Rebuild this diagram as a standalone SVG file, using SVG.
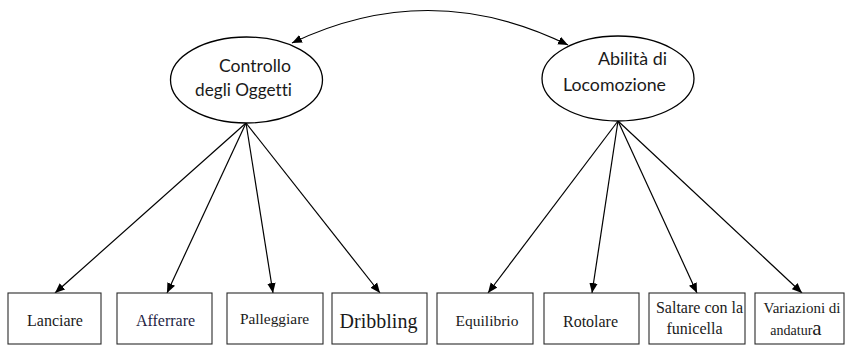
<svg xmlns="http://www.w3.org/2000/svg" width="845" height="345" viewBox="0 0 845 345">
  <style>
    .latent { fill: #ffffff; stroke: #000000; stroke-width: 1.3; }
    .obs { fill: #ffffff; stroke: #2a2a2a; stroke-width: 1.1; }
    .lt { font-family: "Lato", "Noto Sans", sans-serif; font-size: 17.5px; fill: #1a1a1a; text-anchor: end; font-variant-ligatures: none; }
    .ot { font-family: "Liberation Serif", "Times New Roman", serif; font-size: 16px; fill: #1a1a1a; text-anchor: middle; }
    .edge { fill: none; stroke: #000000; stroke-width: 1.2; }
  </style>
  <defs>
    <marker id="arrow" viewBox="0 0 10 10" refX="10" refY="5" markerWidth="10" markerHeight="10" markerUnits="userSpaceOnUse" orient="auto-start-reverse">
      <path d="M0,0.8 L10,5 L0,9.2 Z" fill="#000000"/>
    </marker>
  </defs>

  <rect width="845" height="345" fill="#ffffff"/>

  <!-- connectors -->
  <g id="connectors">
    <path class="edge" d="M292,43 Q430,-23 568,45" marker-start="url(#arrow)" marker-end="url(#arrow)"/>
    <line class="edge" x1="246" y1="123" x2="55" y2="293" marker-end="url(#arrow)"/>
    <line class="edge" x1="246" y1="123" x2="167" y2="293" marker-end="url(#arrow)"/>
    <line class="edge" x1="246" y1="123" x2="273" y2="293" marker-end="url(#arrow)"/>
    <line class="edge" x1="246" y1="123" x2="380" y2="293" marker-end="url(#arrow)"/>
    <line class="edge" x1="618" y1="121" x2="488" y2="293" marker-end="url(#arrow)"/>
    <line class="edge" x1="618" y1="121" x2="592" y2="293" marker-end="url(#arrow)"/>
    <line class="edge" x1="618" y1="121" x2="697" y2="293" marker-end="url(#arrow)"/>
    <line class="edge" x1="618" y1="121" x2="802" y2="293" marker-end="url(#arrow)"/>
  </g>

  <!-- latent factors -->
  <g id="controllo-oggetti">
    <ellipse class="latent" cx="246.5" cy="80" rx="76" ry="43"/>
    <text class="lt" x="291" y="72" textLength="72" lengthAdjust="spacingAndGlyphs">Controllo</text>
    <text class="lt" x="292" y="96" textLength="97" lengthAdjust="spacingAndGlyphs">degli Oggetti</text>
  </g>
  <g id="abilita-locomozione">
    <ellipse class="latent" cx="618" cy="78.5" rx="76" ry="42.5"/>
    <text class="lt" x="667" y="65" textLength="69" lengthAdjust="spacingAndGlyphs">Abilità di</text>
    <text class="lt" x="666" y="91" textLength="103" lengthAdjust="spacingAndGlyphs">Locomozione</text>
  </g>

  <!-- observed indicators -->
  <g id="lanciare">
    <rect class="obs" x="8" y="293" width="93" height="51"/>
    <text class="ot" x="55" y="326">Lanciare</text>
  </g>
  <g id="afferrare">
    <rect class="obs" x="117" y="293" width="95" height="51"/>
    <text class="ot" x="165.5" y="326" style="fill:#1f1f45">Afferrare</text>
  </g>
  <g id="palleggiare">
    <rect class="obs" x="227" y="293" width="96" height="51"/>
    <text class="ot" x="274.5" y="324" style="font-size:15.4px">Palleggiare</text>
  </g>
  <g id="dribbling">
    <rect class="obs" x="332" y="293" width="95" height="51"/>
    <text class="ot" x="378.5" y="328" style="font-size:20px">Dribbling</text>
  </g>
  <g id="equilibrio">
    <rect class="obs" x="437" y="293" width="96" height="51"/>
    <text class="ot" x="487" y="326" style="font-size:15.5px">Equilibrio</text>
  </g>
  <g id="rotolare">
    <rect class="obs" x="544" y="293" width="95" height="51"/>
    <text class="ot" x="590.5" y="327">Rotolare</text>
  </g>
  <g id="saltare-funicella">
    <rect class="obs" x="649" y="293" width="96" height="51"/>
    <text class="ot" x="699.5" y="313">Saltare con la</text>
    <text class="ot" x="694.5" y="334">funicella</text>
  </g>
  <g id="variazioni-andatura">
    <rect class="obs" x="755" y="293" width="89" height="51"/>
    <text class="ot" x="802" y="313" style="font-size:15px">Variazioni di</text>
    <text class="ot" x="796" y="335" style="font-size:14px">andatur<tspan style="font-size:21px">a</tspan></text>
  </g>
</svg>
